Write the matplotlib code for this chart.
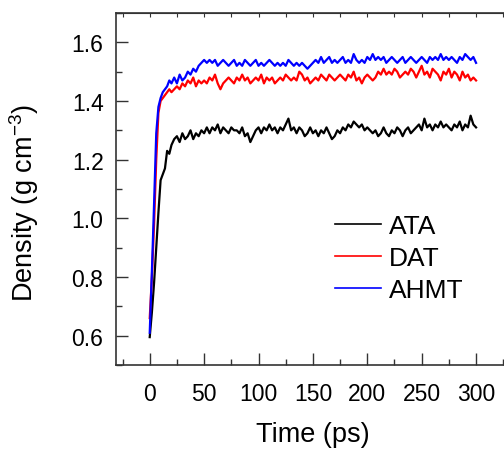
import numpy as np
import matplotlib
matplotlib.use("Agg")
import matplotlib.pyplot as plt
from matplotlib.ticker import MultipleLocator

plt.rcParams['font.family'] = ['Liberation Sans', 'DejaVu Sans']
plt.rcParams['mathtext.default'] = 'regular'

# ---- data ----
time_early = [0, 2, 4, 6, 8, 10, 12, 14, 16, 18, 20]
time_late = [22.5 + 2.5 * i for i in range(112)]
time_ps = time_early + time_late

ata = [0.595, 0.68, 0.78, 0.90, 1.02, 1.13, 1.15, 1.17, 1.23, 1.22, 1.25,
       1.27, 1.28, 1.26, 1.29, 1.27, 1.28, 1.30, 1.27, 1.29, 1.28,
       1.30, 1.29, 1.31, 1.29, 1.31, 1.30, 1.32, 1.29, 1.31, 1.30,
       1.29, 1.31, 1.30, 1.30, 1.29, 1.31, 1.28, 1.29, 1.26, 1.28,
       1.30, 1.31, 1.29, 1.31, 1.30, 1.32, 1.30, 1.31, 1.29, 1.31,
       1.30, 1.32, 1.34, 1.30, 1.31, 1.29, 1.31, 1.30, 1.28, 1.29,
       1.31, 1.29, 1.30, 1.28, 1.30, 1.29, 1.31, 1.29, 1.27, 1.28,
       1.30, 1.29, 1.31, 1.30, 1.32, 1.31, 1.33, 1.32, 1.31, 1.32,
       1.30, 1.31, 1.30, 1.29, 1.30, 1.28, 1.29, 1.31, 1.29, 1.28,
       1.30, 1.29, 1.31, 1.30, 1.28, 1.30, 1.31, 1.29, 1.30, 1.31,
       1.32, 1.30, 1.34, 1.31, 1.32, 1.30, 1.32, 1.31, 1.33, 1.31,
       1.32, 1.31, 1.30, 1.32, 1.31, 1.33, 1.30, 1.32, 1.31, 1.35,
       1.32, 1.31]

dat = [0.66, 0.80, 0.98, 1.20, 1.36, 1.40, 1.41, 1.42, 1.43, 1.44, 1.43,
       1.44, 1.45, 1.44, 1.46, 1.45, 1.47, 1.46, 1.48, 1.45, 1.47,
       1.46, 1.47, 1.46, 1.48, 1.47, 1.49, 1.46, 1.44, 1.46, 1.47,
       1.48, 1.47, 1.46, 1.48, 1.47, 1.49, 1.47, 1.48, 1.46, 1.47,
       1.48, 1.47, 1.49, 1.46, 1.48, 1.47, 1.48, 1.46, 1.47, 1.48,
       1.47, 1.49, 1.48, 1.47, 1.48, 1.47, 1.50, 1.49, 1.47, 1.48,
       1.46, 1.47, 1.48, 1.47, 1.49, 1.48, 1.47, 1.49, 1.48, 1.47,
       1.48, 1.49, 1.48, 1.47, 1.49, 1.48, 1.50, 1.47, 1.48, 1.46,
       1.48, 1.49, 1.48, 1.47, 1.48, 1.50, 1.49, 1.51, 1.49, 1.50,
       1.49, 1.51, 1.50, 1.48, 1.49, 1.50, 1.49, 1.51, 1.50, 1.48,
       1.50, 1.52, 1.49, 1.50, 1.48, 1.51, 1.50, 1.49, 1.47, 1.50,
       1.49, 1.51, 1.48, 1.50, 1.49, 1.47, 1.50, 1.48, 1.49, 1.47,
       1.48, 1.47]

ahmt = [0.61, 0.82, 1.05, 1.29, 1.38, 1.41, 1.43, 1.44, 1.45, 1.47, 1.46,
        1.48, 1.46, 1.49, 1.47, 1.48, 1.50, 1.49, 1.51, 1.50, 1.52,
        1.53, 1.54, 1.53, 1.54, 1.53, 1.54, 1.52, 1.53, 1.54, 1.53,
        1.52, 1.53, 1.54, 1.52, 1.53, 1.52, 1.54, 1.53, 1.52, 1.53,
        1.54, 1.52, 1.53, 1.52, 1.53, 1.54, 1.53, 1.52, 1.53, 1.52,
        1.53, 1.52, 1.54, 1.53, 1.52, 1.53, 1.52, 1.53, 1.52, 1.51,
        1.52, 1.53, 1.54, 1.53, 1.55, 1.53, 1.54, 1.55, 1.53, 1.54,
        1.53, 1.54, 1.55, 1.53, 1.54, 1.53, 1.56, 1.54, 1.53, 1.54,
        1.53, 1.55, 1.54, 1.56, 1.54, 1.55, 1.54, 1.55, 1.53, 1.54,
        1.55, 1.54, 1.53, 1.54, 1.55, 1.53, 1.54, 1.55, 1.54, 1.53,
        1.54, 1.55, 1.54, 1.53, 1.55, 1.54, 1.55, 1.54, 1.56, 1.54,
        1.55, 1.54, 1.55, 1.54, 1.53, 1.55, 1.54, 1.56, 1.55, 1.54,
        1.55, 1.53]

series_names = ["ATA", "DAT", "AHMT"]
series_colors = ["black", "red", "blue"]
series_values = [ata, dat, ahmt]

x_ticks = [0, 50, 100, 150, 200, 250, 300]
y_ticks = [0.6, 0.8, 1.0, 1.2, 1.4, 1.6]

# ---- figure ----
W, H = 504, 452
fig = plt.figure(figsize=(W / 100, H / 100), dpi=100)
ax = fig.add_axes([116 / W, 1 - 366 / H, 392.7 / W, 352 / H])

for name, col, vals in zip(series_names, series_colors, series_values):
    ax.plot(time_ps, vals, color=col, lw=1.6, label=name)

ax.set_xlim(-31, 330)
ax.set_ylim(0.5, 1.7)
ax.set_xticks(x_ticks)
ax.set_yticks(y_ticks)
ax.set_yticklabels([f"{v:.1f}" for v in y_ticks])
ax.xaxis.set_minor_locator(MultipleLocator(25))
ax.yaxis.set_minor_locator(MultipleLocator(0.1))

ax.tick_params(which='both', direction='in', top=False, right=False,
               labelsize=16.5, color='#333333')
ax.tick_params(axis='x', which='major', length=8.5, width=1, pad=12)
ax.tick_params(axis='x', which='minor', length=4.5, width=1)
ax.tick_params(axis='y', which='major', length=8.5, width=1, pad=9)
ax.tick_params(axis='y', which='minor', length=4.5, width=1)

sec = ax.secondary_xaxis('top')
sec.xaxis.set_major_locator(MultipleLocator(25))
sec.tick_params(direction='in', length=3, labeltop=False, color='#333333')
sec.spines['top'].set_color('#333333')

for s in ax.spines.values():
    s.set_linewidth(1.2)
    s.set_color('#333333')

fig.text(313 / W, 1 - 435 / H, "Time (ps)", fontsize=19.5,
         ha='center', va='center')
fig.text(24 / W, 1 - 203 / H, "Density (g cm$^{-3}$)", fontsize=19.5,
         ha='center', va='center', rotation=90)

leg = ax.legend(loc='upper left', bbox_to_anchor=(335 / W, 1 - 215 / H),
                bbox_transform=fig.transFigure, frameon=False, fontsize=19,
                handlelength=1.75, handletextpad=0.28, labelspacing=0.31,
                borderpad=0, borderaxespad=0)
for ln in leg.get_lines():
    ln.set_linewidth(1.2)

fig.savefig("out.png", dpi=100)
